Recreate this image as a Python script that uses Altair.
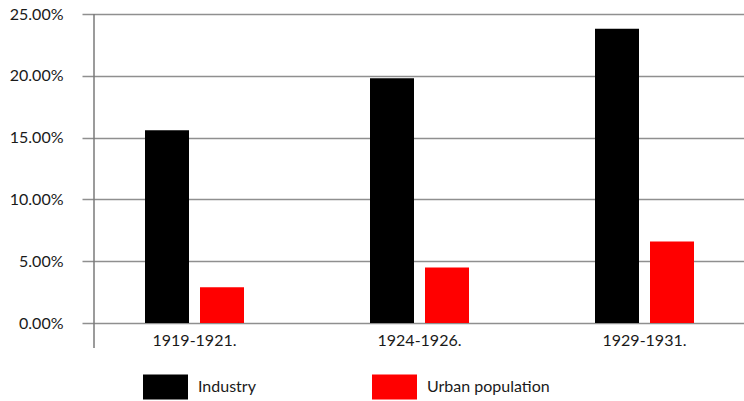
import altair as alt
import pandas as pd

# Growth shares by period
periods = ["1919-1921.", "1924-1926.", "1929-1931."]
series_names = ["Industry", "Urban population"]
industry = [0.156, 0.198, 0.238]
urban_population = [0.029, 0.045, 0.066]
y_ticks = [0.0, 0.05, 0.10, 0.15, 0.20, 0.25]
series_colors = ["#000000", "#ff0000"]

rows = []
for p, a, b in zip(periods, industry, urban_population):
    rows.append({"period": p, "series": series_names[0], "share": a})
    rows.append({"period": p, "series": series_names[1], "share": b})
df = pd.DataFrame(rows)

FONT = "Lato"
TEXT_COLOR = "#1a1a1a"

bars = alt.Chart(df).mark_bar(size=44).encode(
    x=alt.X(
        "period:N",
        sort=periods,
        scale=alt.Scale(range=[14, 689], paddingInner=0, paddingOuter=0),
        axis=alt.Axis(
            title=None, domain=False, ticks=False, labelAngle=0,
            labelFont=FONT, labelFontSize=16, labelColor=TEXT_COLOR,
            labelPadding=9,
        ),
    ),
    xOffset=alt.XOffset(
        "series:N",
        sort=series_names,
        scale=alt.Scale(range=[63, 162], paddingInner=0.2, paddingOuter=0),
    ),
    y=alt.Y(
        "share:Q",
        scale=alt.Scale(domain=[0, 0.25], nice=False),
        axis=alt.Axis(
            title=None, format=".2%", values=y_ticks, domain=False, ticks=False,
            grid=True, gridColor="#8f8f8f", gridWidth=1.3,
            labelFont=FONT, labelFontSize=16, labelColor=TEXT_COLOR,
            labelPadding=5,
        ),
    ),
    color=alt.Color(
        "series:N",
        scale=alt.Scale(domain=series_names, range=series_colors),
        legend=alt.Legend(
            title=None, orient="none", legendX=75, legendY=350,
            direction="horizontal", columns=2, gridAlign="all",
            columnPadding=51, padding=0,
            symbolType="M-1,-0.556H1V0.556H-1Z", symbolSize=2025,
            symbolStrokeWidth=0, symbolOpacity=1,
            labelOffset=10, labelFont=FONT, labelFontSize=16,
            labelColor=TEXT_COLOR, labelLimit=300,
        ),
    ),
)

# Vertical axis line, running a little below the baseline
axis_line = alt.Chart(alt.Data(values=[{}])).mark_rule(
    color="#7a7a7a", strokeWidth=1.5
).encode(x=alt.value(26), y=alt.value(0), y2=alt.value(334))

chart = alt.layer(bars, axis_line).properties(
    width=676,
    height=309,
    autosize=alt.AutoSizeParams(type="none"),
    padding={"left": 68, "top": 14, "right": 0, "bottom": 78},
    background="white",
).configure_view(stroke=None)

chart.save("out.html", embed_options={"renderer": "svg", "actions": False})
